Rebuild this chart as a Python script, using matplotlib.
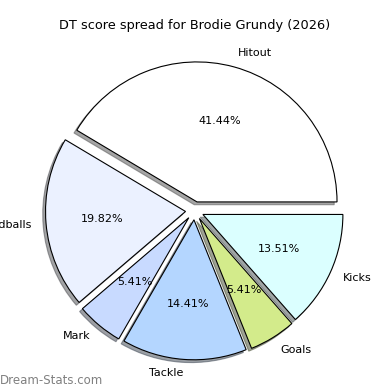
import matplotlib
matplotlib.use('Agg')
import matplotlib.pyplot as plt

# DT score counts per stat
categories = ['Hitout', 'Handballs', 'Mark', 'Tackle', 'Goals', 'Kicks']
values = [46, 22, 6, 16, 6, 15]
colors = ['#ffffff', '#ebf1ff', '#c8daff', '#b4d6ff', '#d3eb8b', '#dbffff']
explode = [0.065] * len(values)

fig = plt.figure(figsize=(3.9, 3.9), dpi=100)
ax = fig.add_axes([0, 0, 1, 1])

ax.pie(values, labels=categories, colors=colors, explode=explode,
       autopct='%1.2f%%', startangle=0,
       shadow={'ox': -0.0144, 'oy': -0.0144},
       wedgeprops={'edgecolor': 'black', 'linewidth': 0.8},
       textprops={'fontsize': 8})

# pie centre at pixel (194.6, 210.7), radius 140 px
r = 140.0
ax.set_xlim(-194.6 / r, (390 - 194.6) / r)
ax.set_ylim(-179.3 / r, 210.7 / r)
ax.set_aspect('auto')
ax.axis('off')

fig.text(0.5, 1 - 26 / 390, 'DT score spread for Brodie Grundy (2026)',
         ha='center', va='center', fontsize=9.3)
fig.text(0.0, 1 - 380 / 390, 'Dream-Stats.com', ha='left', va='center',
         fontsize=8.5, color='#808080')

fig.savefig('out.png', dpi=100)
